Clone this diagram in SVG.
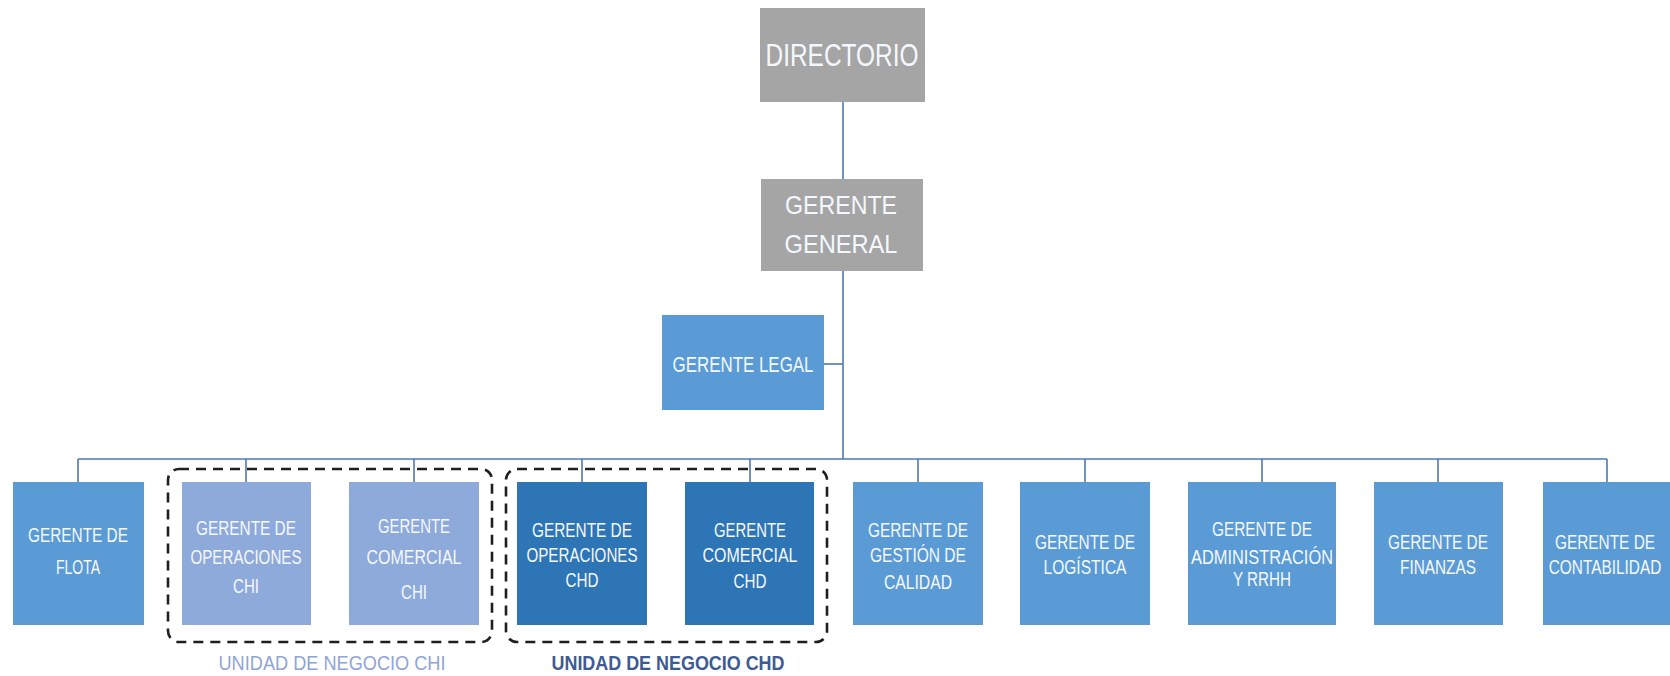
<svg xmlns="http://www.w3.org/2000/svg" width="1670" height="676" viewBox="0 0 1670 676">
  <style>
    .gray { fill: #a5a5a5; }
    .mid { fill: #5b9bd5; }
    .chi { fill: #8eaadb; }
    .chd { fill: #2e75b6; }
    .t { font-family: "Liberation Sans", Arial, sans-serif; fill: #f4f8fd; text-anchor: middle; }
    .big { font-size: 31px; }
    .gg { font-size: 26px; }
    .lg { font-size: 22px; }
    .sm { font-size: 20px; }
    .wire { stroke: #4a78b5; stroke-width: 1.6; fill: none; }
    .group { fill: none; stroke: #1f1f1f; stroke-width: 2.6; stroke-dasharray: 10 7; }
    .unit { font-family: "Liberation Sans", Arial, sans-serif; font-size: 21px; text-anchor: middle; }
  </style>

  <!-- connectors -->
  <g id="connectors">
    <line class="wire" x1="843" y1="102" x2="843" y2="179"/>
    <line class="wire" x1="843" y1="271" x2="843" y2="459"/>
    <line class="wire" x1="824" y1="364" x2="843" y2="364"/>
    <line class="wire" x1="78" y1="459" x2="1607" y2="459"/>
    <line class="wire" x1="78" y1="459" x2="78" y2="482"/>
    <line class="wire" x1="246" y1="459" x2="246" y2="482"/>
    <line class="wire" x1="414" y1="459" x2="414" y2="482"/>
    <line class="wire" x1="582" y1="459" x2="582" y2="482"/>
    <line class="wire" x1="750" y1="459" x2="750" y2="482"/>
    <line class="wire" x1="918" y1="459" x2="918" y2="482"/>
    <line class="wire" x1="1085" y1="459" x2="1085" y2="482"/>
    <line class="wire" x1="1262" y1="459" x2="1262" y2="482"/>
    <line class="wire" x1="1438" y1="459" x2="1438" y2="482"/>
    <line class="wire" x1="1607" y1="459" x2="1607" y2="482"/>
  </g>

  <!-- top levels -->
  <g id="directorio">
    <rect class="gray" x="760" y="8" width="165" height="94"/>
    <text class="t big" x="842" y="66" textLength="153" lengthAdjust="spacingAndGlyphs">DIRECTORIO</text>
  </g>
  <g id="gerente-general">
    <rect class="gray" x="761" y="179" width="162" height="92"/>
    <text class="t gg" x="841" y="214" textLength="112" lengthAdjust="spacingAndGlyphs">GERENTE</text>
    <text class="t gg" x="841" y="253" textLength="113" lengthAdjust="spacingAndGlyphs">GENERAL</text>
  </g>
  <g id="gerente-legal">
    <rect class="mid" x="662" y="315" width="162" height="95"/>
    <text class="t lg" x="743" y="372" textLength="141" lengthAdjust="spacingAndGlyphs">GERENTE LEGAL</text>
  </g>

  <!-- second level -->
  <g id="flota">
    <rect class="mid" x="13" y="482" width="131" height="143"/>
    <text class="t sm" x="78" y="542" textLength="100" lengthAdjust="spacingAndGlyphs">GERENTE DE</text>
    <text class="t sm" x="78" y="574" textLength="44" lengthAdjust="spacingAndGlyphs">FLOTA</text>
  </g>
  <g id="operaciones-chi">
    <rect class="chi" x="182" y="482" width="129" height="143"/>
    <text class="t sm" x="246" y="535" textLength="100" lengthAdjust="spacingAndGlyphs">GERENTE DE</text>
    <text class="t sm" x="246" y="564" textLength="111" lengthAdjust="spacingAndGlyphs">OPERACIONES</text>
    <text class="t sm" x="246" y="593" textLength="26" lengthAdjust="spacingAndGlyphs">CHI</text>
  </g>
  <g id="comercial-chi">
    <rect class="chi" x="349" y="482" width="130" height="143"/>
    <text class="t sm" x="414" y="533" textLength="72" lengthAdjust="spacingAndGlyphs">GERENTE</text>
    <text class="t sm" x="414" y="564" textLength="95" lengthAdjust="spacingAndGlyphs">COMERCIAL</text>
    <text class="t sm" x="414" y="599" textLength="26" lengthAdjust="spacingAndGlyphs">CHI</text>
  </g>
  <g id="operaciones-chd">
    <rect class="chd" x="517" y="482" width="130" height="143"/>
    <text class="t sm" x="582" y="537" textLength="100" lengthAdjust="spacingAndGlyphs">GERENTE DE</text>
    <text class="t sm" x="582" y="562" textLength="111" lengthAdjust="spacingAndGlyphs">OPERACIONES</text>
    <text class="t sm" x="582" y="587" textLength="33" lengthAdjust="spacingAndGlyphs">CHD</text>
  </g>
  <g id="comercial-chd">
    <rect class="chd" x="685" y="482" width="129" height="143"/>
    <text class="t sm" x="750" y="537" textLength="72" lengthAdjust="spacingAndGlyphs">GERENTE</text>
    <text class="t sm" x="750" y="562" textLength="95" lengthAdjust="spacingAndGlyphs">COMERCIAL</text>
    <text class="t sm" x="750" y="588" textLength="33" lengthAdjust="spacingAndGlyphs">CHD</text>
  </g>
  <g id="gestion-calidad">
    <rect class="mid" x="853" y="482" width="130" height="143"/>
    <text class="t sm" x="918" y="537" textLength="100" lengthAdjust="spacingAndGlyphs">GERENTE DE</text>
    <text class="t sm" x="918" y="562" textLength="96" lengthAdjust="spacingAndGlyphs">GESTIÓN DE</text>
    <text class="t sm" x="918" y="589" textLength="68" lengthAdjust="spacingAndGlyphs">CALIDAD</text>
  </g>
  <g id="logistica">
    <rect class="mid" x="1020" y="482" width="130" height="143"/>
    <text class="t sm" x="1085" y="549" textLength="100" lengthAdjust="spacingAndGlyphs">GERENTE DE</text>
    <text class="t sm" x="1085" y="574" textLength="83" lengthAdjust="spacingAndGlyphs">LOGÍSTICA</text>
  </g>
  <g id="administracion-rrhh">
    <rect class="mid" x="1188" y="482" width="148" height="143"/>
    <text class="t sm" x="1262" y="536" textLength="100" lengthAdjust="spacingAndGlyphs">GERENTE DE</text>
    <text class="t sm" x="1262" y="564" textLength="142" lengthAdjust="spacingAndGlyphs">ADMINISTRACIÓN</text>
    <text class="t sm" x="1262" y="586" textLength="58" lengthAdjust="spacingAndGlyphs">Y RRHH</text>
  </g>
  <g id="finanzas">
    <rect class="mid" x="1374" y="482" width="129" height="143"/>
    <text class="t sm" x="1438" y="549" textLength="100" lengthAdjust="spacingAndGlyphs">GERENTE DE</text>
    <text class="t sm" x="1438" y="574" textLength="76" lengthAdjust="spacingAndGlyphs">FINANZAS</text>
  </g>
  <g id="contabilidad">
    <rect class="mid" x="1543" y="482" width="127" height="143"/>
    <!-- narrowed by a horizontal scale so the lines stay inside the right edge -->
    <g transform="translate(1605 0) scale(0.77 1)">
      <text class="t sm" x="0" y="549">GERENTE DE</text>
      <text class="t sm" x="0" y="574">CONTABILIDAD</text>
    </g>
  </g>

  <!-- business unit groupings -->
  <g id="unidad-chi">
    <rect class="group" x="168" y="469" width="324" height="173" rx="11"/>
    <text class="unit" x="332" y="670" fill="#8fa5d6" textLength="227" lengthAdjust="spacingAndGlyphs">UNIDAD DE NEGOCIO CHI</text>
  </g>
  <g id="unidad-chd">
    <rect class="group" x="506" y="469" width="321" height="173" rx="11"/>
    <text class="unit" x="668" y="670" fill="#3e5a92" font-weight="bold" textLength="233" lengthAdjust="spacingAndGlyphs">UNIDAD DE NEGOCIO CHD</text>
  </g>
</svg>
